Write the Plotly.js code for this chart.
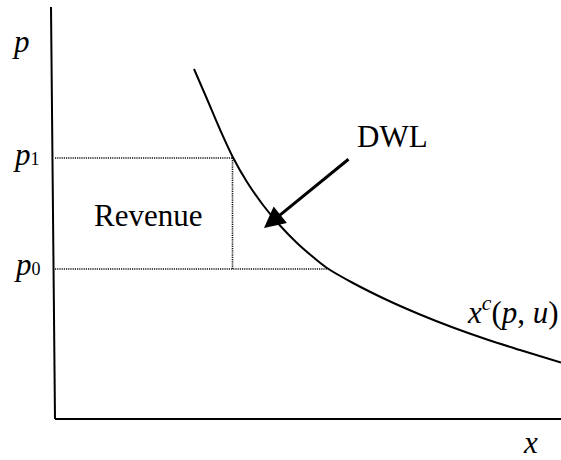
<!DOCTYPE html>
<html>
<head>
<meta charset="utf-8">
<script src="https://cdn.plot.ly/plotly-3.0.1.min.js"></script>
<style>html,body{margin:0;padding:0;background:#fff;}#chart{width:561px;height:460px;}</style>
</head>
<body>
<div id="chart"></div>
<script>
// Compensated demand curve x^c(p, u): quantity (x) and price (p)
const curveX = [2.78, 3.04, 3.30, 3.56, 3.84, 4.16, 4.50, 4.84, 5.16, 5.44, 5.96, 6.64, 7.30, 7.96, 8.64, 9.30, 10.12];
const curveP = [7.00, 6.40, 5.79, 5.23, 4.74, 4.28, 3.87, 3.52, 3.24, 3.02, 2.72, 2.38, 2.09, 1.83, 1.59, 1.38, 1.13];

// Price levels and the quantities demanded at them
const priceNames = ["p0", "p1"];
const priceLevels = [3.00, 5.22];
const quantityAtPrice = [5.45, 3.55];

// Text labels
const axisLabelP = "<i>p</i>";
const axisLabelX = "<i>x</i>";
const priceLabels = ["<i>p</i><span style=\"font-size:18px\">0</span>", "<i>p</i><span style=\"font-size:18px\">1</span>"];
const revenueLabel = "Revenue";
const dwlLabel = "DWL";
const curveLabel = "<i>x</i><sup><i>c</i></sup>(<i>p</i>, <i>u</i>)";

const FONT = {family: "Liberation Serif, Times New Roman, serif", size: 31, color: "#000"};
const DOT = {color: "#111", width: 1.6, dash: "1.2px,1px"};

const p0 = priceLevels[0], p1 = priceLevels[1];
const x0 = quantityAtPrice[0], x1 = quantityAtPrice[1];

const traces = [
  // horizontal dotted line at p1 (top of revenue box)
  {x: [0, x1], y: [p1, p1], mode: "lines", line: DOT, hoverinfo: "skip"},
  // vertical dotted line at x1
  {x: [x1, x1], y: [p0, p1], mode: "lines", line: DOT, hoverinfo: "skip"},
  // horizontal dotted line at p0
  {x: [0, x0], y: [p0, p0], mode: "lines", line: DOT, hoverinfo: "skip"},
  // demand curve
  {x: curveX, y: curveP, mode: "lines", line: {color: "#000", width: 2, shape: "spline", smoothing: 1}, hoverinfo: "skip"}
];

const layout = {
  width: 561, height: 460,
  margin: {l: 0, r: 0, t: 0, b: 0},
  paper_bgcolor: "#fff", plot_bgcolor: "#fff",
  showlegend: false,
  xaxis: {range: [-1.1, 10.12], visible: false, fixedrange: true},
  yaxis: {range: [-0.82, 8.38], visible: false, fixedrange: true},
  shapes: [
    // vertical (price) axis
    {type: "line", xref: "x", yref: "y", x0: 0, y0: 0, x1: -0.08, y1: 8.24, line: {color: "#000", width: 2}},
    // horizontal (quantity) axis
    {type: "line", xref: "x", yref: "y", x0: 0, y0: 0, x1: 10.12, y1: 0, line: {color: "#000", width: 2}}
  ],
  annotations: [
    {x: -0.68, y: 7.55, xref: "x", yref: "y", text: axisLabelP, showarrow: false, font: FONT, xanchor: "center", yanchor: "middle"},
    {x: -0.58, y: p1 + 0.07, xref: "x", yref: "y", text: priceLabels[1], showarrow: false, font: FONT, xanchor: "center", yanchor: "middle"},
    {x: -0.56, y: p0 + 0.10, xref: "x", yref: "y", text: priceLabels[0], showarrow: false, font: FONT, xanchor: "center", yanchor: "middle"},
    {x: 9.5, y: -0.47, xref: "x", yref: "y", text: axisLabelX, showarrow: false, font: FONT, xanchor: "center", yanchor: "middle"},
    {x: 1.86, y: 4.07, xref: "x", yref: "y", text: revenueLabel, showarrow: false, font: FONT, xanchor: "center", yanchor: "middle"},
    {x: 6.74, y: 5.65, xref: "x", yref: "y", text: dwlLabel, showarrow: false, font: FONT, xanchor: "center", yanchor: "middle"},
    {x: 9.15, y: 2.17, xref: "x", yref: "y", text: curveLabel, showarrow: false, font: FONT, xanchor: "center", yanchor: "middle"},
    // DWL arrow
    {x: 4.18, y: 3.82, xref: "x", yref: "y", ax: 5.90, ay: 5.22, axref: "x", ayref: "y",
     text: "", showarrow: true, arrowhead: 2, arrowsize: 1.4, arrowwidth: 3, arrowcolor: "#000", standoff: 0, startstandoff: 0}
  ]
};

Plotly.newPlot("chart", traces, layout, {staticPlot: true, displayModeBar: false});
</script>
</body>
</html>
